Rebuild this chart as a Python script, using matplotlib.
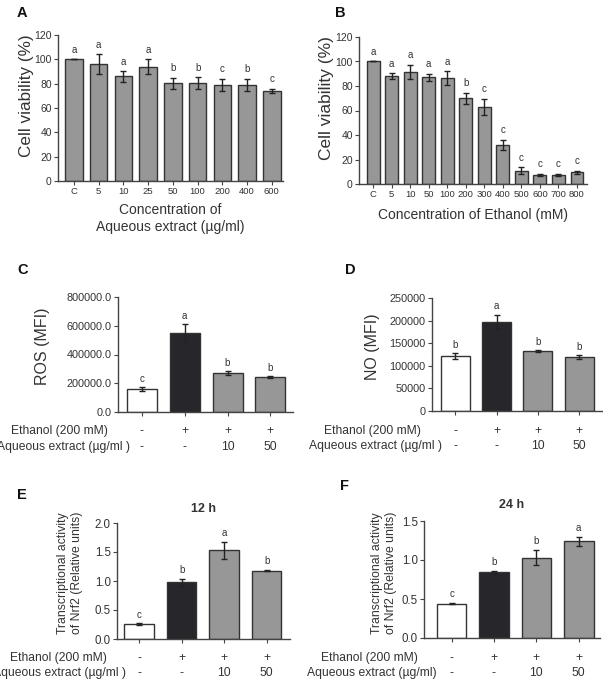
import matplotlib
matplotlib.use("Agg")
import matplotlib.pyplot as plt
import matplotlib.transforms as mtransforms

plt.rcParams['font.family'] = ['Liberation Sans', 'DejaVu Sans']

W, H = 603, 681

# ---------------- data ----------------
a_cats = ["C", "5", "10", "25", "50", "100", "200", "400", "600"]
a_vals = [100, 96, 86, 94, 80.5, 80.5, 79, 79, 74]
a_err = [0, 8, 4.5, 6, 4.5, 5, 5, 5, 2]
a_let = ["a", "a", "a", "a", "b", "b", "c", "b", "c"]

b_cats = ["C", "5", "10", "50", "100", "200", "300", "400", "500", "600", "700", "800"]
b_vals = [100, 88, 91.5, 87, 86.5, 70, 63, 32, 11, 7.5, 7.5, 9.5]
b_err = [0, 2.5, 6, 3, 5.5, 4.5, 6.5, 4, 2.5, 1, 1, 1.5]
b_let = ["a", "a", "a", "a", "a", "b", "c", "c", "c", "c", "c", "c"]

ethanol_row = ["-", "+", "+", "+"]
extract_row = ["-", "-", "10", "50"]

c_vals = [160000, 550000, 270000, 243000]
c_err = [12000, 60000, 12000, 4000]
c_let = ["c", "a", "b", "b"]

d_vals = [122000, 198000, 133000, 120000]
d_err = [6000, 15000, 2000, 4000]
d_let = ["b", "a", "b", "b"]

e_vals = [0.26, 0.98, 1.53, 1.18]
e_err = [0.015, 0.06, 0.15, 0.01]
e_let = ["c", "b", "a", "b"]

f_vals = [0.44, 0.85, 1.03, 1.24]
f_err = [0.01, 0.015, 0.1, 0.06]
f_let = ["c", "b", "b", "a"]

GREY = "#979797"
DARK = "#26262b"
WHITE = "#ffffff"
EDGE = "#333333"
TXT = "#333333"

fig = plt.figure(figsize=(W / 100, H / 100), dpi=100)


def add_ax(l, t, r, b):
    return fig.add_axes([l / W, 1 - b / H, (r - l) / W, (b - t) / H])


def style(ax, fs=7):
    for s in ["top", "right"]:
        ax.spines[s].set_visible(False)
    for s in ["left", "bottom"]:
        ax.spines[s].set_linewidth(1.0)
        ax.spines[s].set_color("#444444")
    ax.tick_params(axis="both", direction="out", length=3, width=0.8,
                   colors="#444444", labelsize=fs, labelcolor=TXT, pad=1.5)


def ylab(text, px, py, fs, ls=1.05):
    fig.text(px / W, 1 - py / H, text, rotation=90, ha="center", va="center",
             fontsize=fs, color=TXT, linespacing=ls, multialignment="center")


def bars(ax, vals, errs, letters, colors, ymax, xlim, lfs=7, loff=0.03, width=0.7):
    x = list(range(len(vals)))
    ax.bar(x, vals, width=width, color=colors, edgecolor=EDGE, linewidth=1.0, zorder=2)
    ax.errorbar(x, vals, yerr=errs, fmt="none", ecolor="#222222", elinewidth=1.0,
                capsize=2.5, capthick=1.0, zorder=3)
    for xi, v, e, l in zip(x, vals, errs, letters):
        ax.text(xi, v + e + ymax * loff, l, ha="center", va="bottom",
                fontsize=lfs, color=TXT)
    ax.set_xlim(*xlim)
    ax.set_ylim(0, ymax)


def rows(ax, eth_right, aq_right, y1, y2, aq_text, fs=8.7):
    trans = mtransforms.blended_transform_factory(ax.transData, fig.transFigure)
    for i, (e, a) in enumerate(zip(ethanol_row, extract_row)):
        ax.text(i, 1 - y1 / H, e, transform=trans, ha="center", va="center",
                fontsize=fs, color=TXT)
        ax.text(i, 1 - y2 / H, a, transform=trans, ha="center", va="center",
                fontsize=fs, color=TXT)
    fig.text(eth_right / W, 1 - y1 / H, "Ethanol (200 mM)", ha="right",
             va="center", fontsize=fs, color=TXT)
    fig.text(aq_right / W, 1 - y2 / H, aq_text, ha="right",
             va="center", fontsize=fs, color=TXT)


# ---------------- Panel A ----------------
axA = add_ax(58, 35, 283, 181)
bars(axA, a_vals, a_err, a_let, [GREY] * len(a_vals), 120, (-0.64, 8.45))
style(axA, 7.5)
axA.set_xticks(range(len(a_cats)))
axA.set_xticklabels(a_cats, fontsize=6.8)
axA.set_yticks(range(0, 121, 20))
ylab("Cell viability (%)", 27, 96, 12.3)
axA.set_xlabel("Concentration of\nAqueous extract (µg/ml)", fontsize=10,
               color=TXT, labelpad=5, linespacing=1.25)

# ---------------- Panel B ----------------
axB = add_ax(359, 37, 587, 184)
bars(axB, b_vals, b_err, b_let, [GREY] * len(b_vals), 120, (-0.76, 11.54))
style(axB, 7.5)
axB.set_xticks(range(len(b_cats)))
axB.set_xticklabels(b_cats, fontsize=6.8)
axB.set_yticks(range(0, 121, 20))
ylab("Cell viability (%)", 327, 98, 12.5)
axB.set_xlabel("Concentration of Ethanol (mM)", fontsize=10, color=TXT, labelpad=6)

cols4 = [WHITE, DARK, GREY, GREY]

# ---------------- Panel C ----------------
axC = add_ax(118, 297, 293, 412)
bars(axC, c_vals, c_err, c_let, cols4, 800000, (-0.56, 3.53))
style(axC, 7.8)
axC.set_xticks(range(4))
axC.set_xticklabels([])
axC.set_yticks(range(0, 800001, 200000))
axC.set_yticklabels([f"{v:.1f}" for v in range(0, 800001, 200000)])
ylab("ROS (MFI)", 43, 346, 11.5)
rows(axC, 108, 130, 431, 447, "Aqueous extract (µg/ml )")

# ---------------- Panel D ----------------
axD = add_ax(432, 298, 602, 411)
bars(axD, d_vals, d_err, d_let, cols4, 250000, (-0.56, 3.55))
style(axD, 7.8)
axD.set_xticks(range(4))
axD.set_xticklabels([])
axD.set_yticks(range(0, 250001, 50000))
ylab("NO (MFI)", 372, 347, 11.5)
rows(axD, 421, 442, 431, 446, "Aqueous extract (µg/ml )")

# ---------------- Panel E ----------------
axE = add_ax(117, 523, 290, 639)
bars(axE, e_vals, e_err, e_let, cols4, 2.0, (-0.52, 3.55))
style(axE, 8.3)
axE.set_xticks(range(4))
axE.set_xticklabels([])
axE.set_yticks([0, 0.5, 1.0, 1.5, 2.0])
axE.set_yticklabels(["0.0", "0.5", "1.0", "1.5", "2.0"])
ylab("Transcriptional activity\nof Nrf2 (Relative units)", 70, 573, 8.8, 1.15)
axE.set_title("12 h", fontsize=9, fontweight="bold", color=TXT, pad=8)
rows(axE, 107, 126, 658, 673, "Aqueous extract (µg/ml )")

# ---------------- Panel F ----------------
axF = add_ax(424, 521, 600, 638)
bars(axF, f_vals, f_err, f_let, cols4, 1.5, (-0.65, 3.5))
style(axF, 8.3)
axF.set_xticks(range(4))
axF.set_xticklabels([])
axF.set_yticks([0, 0.5, 1.0, 1.5])
axF.set_yticklabels(["0.0", "0.5", "1.0", "1.5"])
ylab("Transcriptional activity\nof Nrf2 (Relative units)", 384, 573, 8.8, 1.15)
axF.set_title("24 h", fontsize=9, fontweight="bold", color=TXT, pad=9)
rows(axF, 418, 437, 658, 673, "Aqueous extract (µg/ml)")

# ---------------- panel letters ----------------
for lab, (px, py) in {"A": (17, 13), "B": (335, 13), "C": (17, 270),
                      "D": (345, 270), "E": (17, 495), "F": (340, 486)}.items():
    fig.text(px / W, 1 - py / H, lab, fontsize=10.5, fontweight="bold",
             ha="left", va="center", color="#111111")

fig.savefig("out.png", dpi=100)
